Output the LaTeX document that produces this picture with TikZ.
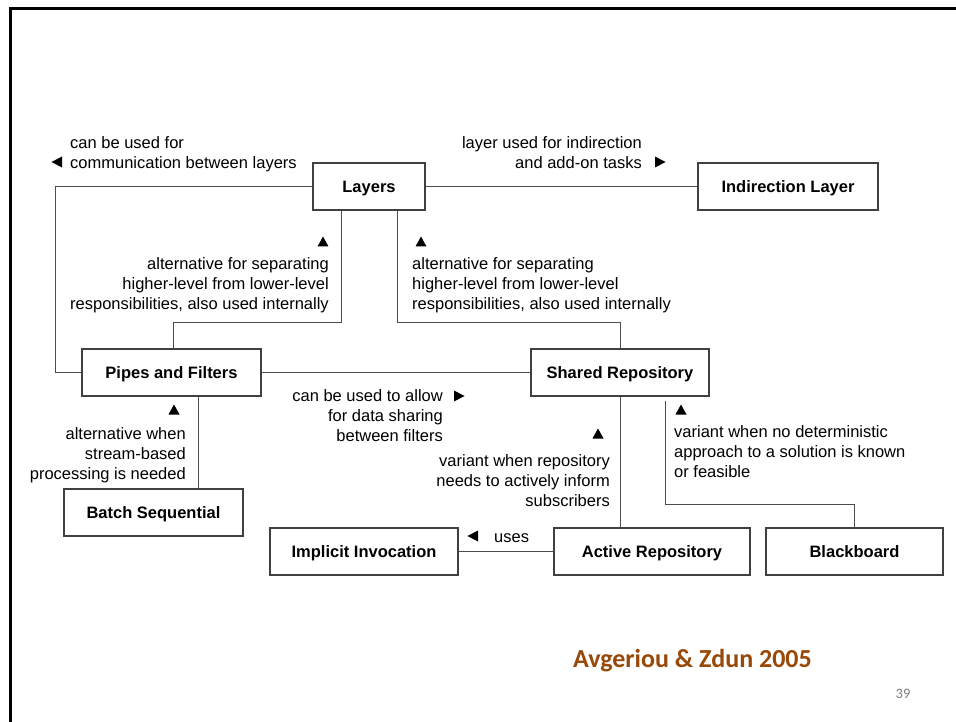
\documentclass[tikz,border=0pt]{standalone}
\usepackage{fontspec}
\setmainfont{Liberation Sans}
\newfontfamily\slidefont{Carlito}
\definecolor{citebrown}{RGB}{152,72,7}
\begin{document}
\begin{tikzpicture}[x=1pt,y=-1pt,
  box/.style={draw=black!75, line width=1.1pt, minimum height=47pt, inner sep=0pt,
    text height=11.8pt, text depth=0pt,
    font=\fontsize{16.5}{20}\selectfont\bfseries, fill=white},
  link/.style={draw=black!70, line width=1pt},
  lbl/.style={inner sep=0pt, font=\fontsize{16.5}{20}\selectfont},
  tri up/.pic={\fill (-5.5,4.5) -- (5.5,4.5) -- (0,-5.5) -- cycle;},
  tri right/.pic={\fill (-5,-5.5) -- (-5,5.5) -- (5.5,0) -- cycle;},
  tri left/.pic={\fill (5,-5.5) -- (5,5.5) -- (-5.5,0) -- cycle;}
]
\useasboundingbox (0,0) rectangle (956,722);
\fill[white] (0,0) rectangle (956,722);

% slide frame
\draw[line width=2.6pt, line cap=rect] (10.5,722) -- (10.5,8.5) -- (956,8.5);

% pattern boxes
\node[box, minimum width=112pt] (layers)   at (369,186.5) {Layers};
\node[box, minimum width=180pt] (indir)    at (788,186.5) {Indirection Layer};
\node[box, minimum width=179pt] (pipes)    at (171.5,372.5) {Pipes and Filters};
\node[box, minimum width=178pt] (shared)   at (620,372.5) {Shared Repository};
\node[box, minimum width=179pt] (batch)    at (153.5,512.5) {Batch Sequential};
\node[box, minimum width=188pt] (implicit) at (364,551.5) {Implicit Invocation};
\node[box, minimum width=196pt] (active)   at (652,551.5) {Active Repository};
\node[box, minimum width=177pt] (black)    at (854.5,551.5) {Blackboard};

% relations
\draw[link] (layers.east) -- (indir.west);
\draw[link] (layers.west) -- ++(-257,0) |- (pipes.west);
\draw[link] ([xshift=-28pt]layers.south) -- ++(0,112) -| ([xshift=1.5pt]pipes.north);
\draw[link] ([xshift=28pt]layers.south) -- ++(0,112) -| (shared.north);
\draw[link] (pipes.east) -- (shared.west);
\draw[link] ([xshift=26.5pt]pipes.south) -- ([xshift=26.5pt]pipes.south |- batch.north);
\draw[link] (shared.south) -- (shared.south |- active.north);
\draw[link] ([xshift=45pt,yshift=-4pt]shared.south) -- ++(0,104) -| (black.north);
\draw[link] (active.west) -- (implicit.east);

% relation labels (base anchor sits on the last line)
\node[lbl, anchor=base west, align=left] (lcomm) at (70,169)
  {can be used for\\communication between layers};
\pic at (57,162) {tri left};
\node[lbl, anchor=base east, align=right] (lindir) at (642,169)
  {layer used for indirection\\and add-on tasks};
\pic at (660,162) {tri right};
\node[lbl, anchor=base east, align=right] (lpipes) at (329,309.5)
  {alternative for separating\\higher-level from lower-level\\responsibilities, also used internally};
\pic at (323,242) {tri up};
\node[lbl, anchor=base west, align=left] (lshared) at (412,309.5)
  {alternative for separating\\higher-level from lower-level\\responsibilities, also used internally};
\pic at (421,242) {tri up};
\node[lbl, anchor=base east, align=right] (ldata) at (443,441.5)
  {can be used to allow\\for data sharing\\between filters};
\pic at (459,396) {tri right};
\node[lbl, anchor=base east, align=right] (lbatch) at (186,479.5)
  {alternative when\\stream-based\\processing is needed};
\pic at (174,410) {tri up};
\node[lbl, anchor=base east, align=right] (lactive) at (610,506.5)
  {variant when repository\\needs to actively inform\\subscribers};
\pic at (598,434) {tri up};
\node[lbl, anchor=base west, align=left] (lblack) at (674,477)
  {variant when no deterministic\\approach to a solution is known\\or feasible};
\pic at (681,410) {tri up};
\node[lbl, anchor=base west] (luses) at (494,542) {uses};
\pic at (473,536) {tri left};

% citation and page number
\node[inner sep=0pt, text=citebrown, font=\slidefont\fontsize{26}{30}\selectfont\bfseries]
  (cite) at (692.5,661) {Avgeriou \& Zdun 2005};
\node[inner sep=0pt, text=black!50, font=\slidefont\fontsize{14.5}{17}\selectfont]
  (pageno) at (903,694) {39};
\end{tikzpicture}
\end{document}
